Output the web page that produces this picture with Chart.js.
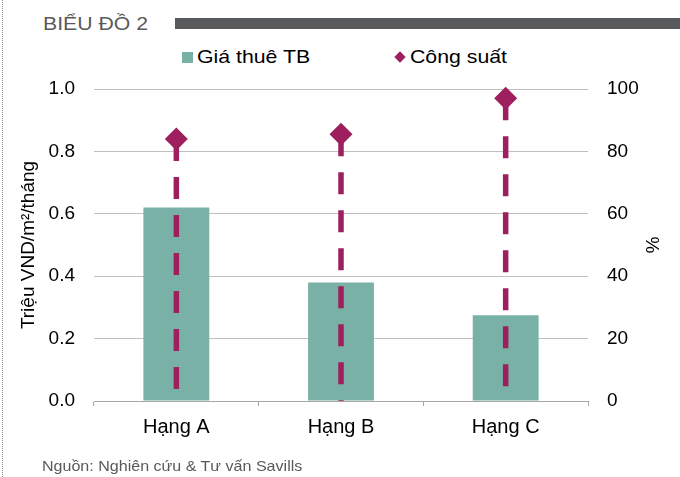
<!DOCTYPE html>
<html lang="vi">
<head>
<meta charset="utf-8">
<title>Biểu đồ 2</title>
<script src="https://cdn.jsdelivr.net/npm/chart.js@4/dist/chart.umd.min.js"></script>
<style>
  html, body { margin: 0; padding: 0; background: #fff; }
  body { width: 680px; height: 477px; position: relative; overflow: hidden;
         font-family: "Liberation Sans", Arial, sans-serif; }
  #frame { position: absolute; left: 2px; top: 0; height: 477px; border-left: 1px dotted #8c8c8c; }
  #title { position: absolute; left: 43px; top: 13px; font-size: 18px; line-height: 22px; color: #595959;
           white-space: nowrap; transform: scaleX(1.18); transform-origin: 0 50%; }
  #rule { position: absolute; left: 175px; top: 18px; width: 505px; height: 11px; background: #58595b; }
  #legend { position: absolute; left: 0; top: 46px; width: 680px; height: 22px; }
  #legend .item { position: absolute; top: 0; height: 22px; font-size: 19px; line-height: 22px; color: #000; white-space: nowrap; }
  #legend .swatch { position: absolute; }
  #legend .label { position: absolute; top: 0; transform: scaleX(1.12); transform-origin: 0 50%; }
  #note { position: absolute; left: 42px; top: 457px; font-size: 15px; line-height: 18px; color: #595959;
          white-space: nowrap; transform: scaleX(1.07); transform-origin: 0 50%; }
  #chart { position: absolute; left: 0; top: 0; }
</style>
</head>
<body>
<div id="frame"></div>
<div id="title">BIỂU ĐỒ 2</div>
<div id="rule"></div>
<div id="legend"></div>
<canvas id="chart" width="680" height="477"></canvas>
<div id="note">Nguồn: Nghiên cứu &amp; Tư vấn Savills</div>

<script>
// Office grades
const grades = ['Hạng A', 'Hạng B', 'Hạng C'];
// Average rent, million VND per m² per month
const avgRent = [0.62, 0.38, 0.275];
// Occupancy, %
const occupancy = [84, 85.5, 97];
// Axis tick steps
const rentTicks = { min: 0, max: 1, step: 0.2 };
const occTicks = { min: 0, max: 100, step: 20 };

const FONT = '"Liberation Sans", Arial, sans-serif';
const TEAL = '#7ab1a7';
const PLUM = '#9d1f5e';

// Dashed drop line from every occupancy marker down to the zero line,
// drawn after the bars and before the markers.
const dropLines = {
  id: 'dropLines',
  afterDatasetDraw(chart, args) {
    if (args.index !== 0) return;
    const meta = chart.getDatasetMeta(1);
    const base = chart.scales.y1.getPixelForValue(0);
    const ctx = chart.ctx;
    ctx.save();
    ctx.strokeStyle = PLUM;
    ctx.lineWidth = 5.5;
    ctx.lineCap = 'butt';
    ctx.setLineDash([22, 16]);
    meta.data.forEach(pt => {
      ctx.beginPath();
      ctx.moveTo(pt.x, pt.y);
      ctx.lineTo(pt.x, base);
      ctx.stroke();
    });
    ctx.restore();
  }
};

const chart = new Chart(document.getElementById('chart'), {
  type: 'bar',
  data: {
    labels: grades,
    datasets: [
      {
        label: 'Giá thuê TB',
        data: avgRent,
        backgroundColor: TEAL,
        yAxisID: 'y',
        order: 1,
        categoryPercentage: 0.4,
        barPercentage: 1
      },
      {
        type: 'line',
        label: 'Công suất',
        data: occupancy,
        yAxisID: 'y1',
        order: 0,
        showLine: false,
        clip: false,
        pointStyle: 'rectRot',
        pointRadius: 11.5,
        pointHoverRadius: 11.5,
        pointBorderWidth: 0,
        backgroundColor: PLUM,
        borderColor: PLUM
      }
    ]
  },
  options: {
    responsive: false,
    animation: false,
    events: [],
    layout: { padding: { top: 89, left: 0, right: 0, bottom: 0 } },
    plugins: {
      legend: { display: false },
      tooltip: { enabled: false }
    },
    scales: {
      x: {
        offset: true,
        grid: { offset: true, drawOnChartArea: false, drawTicks: true, tickLength: 5, color: '#a6a6a6' },
        border: { color: '#a6a6a6', width: 1 },
        ticks: { color: '#000', padding: 9, font: { family: FONT, size: 20 } },
        afterFit(s) { s.height = 76; }
      },
      y: {
        position: 'left',
        min: rentTicks.min,
        max: rentTicks.max,
        grid: { color: '#bfbfbf', drawTicks: false },
        border: { display: false },
        ticks: {
          stepSize: rentTicks.step,
          padding: 19,
          color: '#000',
          font: { family: FONT, size: 19 },
          callback: v => Number(v).toFixed(1)
        },
        title: {
          display: true,
          text: 'Triệu VND/m²/tháng',
          color: '#000',
          padding: { top: 17, bottom: 0 },
          font: { family: FONT, size: 19 }
        },
        afterFit(s) { s.width = 94; }
      },
      y1: {
        position: 'right',
        min: occTicks.min,
        max: occTicks.max,
        grid: { drawOnChartArea: false, drawTicks: false },
        border: { display: false },
        ticks: {
          stepSize: occTicks.step,
          padding: 19,
          color: '#000',
          font: { family: FONT, size: 19 }
        },
        title: {
          display: true,
          text: '%',
          color: '#000',
          padding: { top: 17, bottom: 0 },
          font: { family: FONT, size: 19 }
        },
        afterFit(s) { s.width = 92; }
      }
    }
  },
  plugins: [dropLines]
});

// Legend built from the datasets: square swatch for bars, diamond for markers
const legendSlots = [
  { left: 182, swatch: 11, textGap: 4 },
  { left: 394, swatch: 8, textGap: 5 }
];
const legendEl = document.getElementById('legend');
chart.data.datasets.forEach((ds, i) => {
  const slot = legendSlots[i];
  const item = document.createElement('div');
  item.className = 'item';
  item.style.left = slot.left + 'px';
  const sw = document.createElement('span');
  sw.className = 'swatch';
  sw.style.width = slot.swatch + 'px';
  sw.style.height = slot.swatch + 'px';
  sw.style.background = ds.backgroundColor;
  let textLeft;
  if (ds.pointStyle === 'rectRot') {
    const half = slot.swatch * Math.SQRT2 / 2;
    sw.style.left = (half - slot.swatch / 2) + 'px';
    sw.style.top = (11 - slot.swatch / 2) + 'px';
    sw.style.transform = 'rotate(45deg)';
    textLeft = half * 2 + slot.textGap;
  } else {
    sw.style.left = '0px';
    sw.style.top = (11 - slot.swatch / 2) + 'px';
    textLeft = slot.swatch + slot.textGap;
  }
  const txt = document.createElement('span');
  txt.className = 'label';
  txt.textContent = ds.label;
  txt.style.left = textLeft + 'px';
  item.appendChild(sw);
  item.appendChild(txt);
  legendEl.appendChild(item);
});
</script>
</body>
</html>
